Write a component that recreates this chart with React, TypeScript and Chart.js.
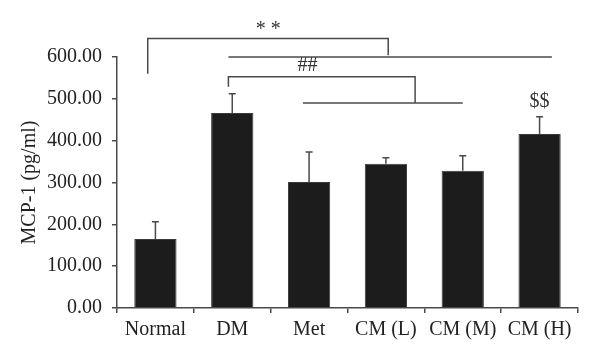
import React, { useEffect, useRef } from "react";
import { Chart, registerables } from "chart.js";

Chart.register(...registerables);

const categories = ["Normal", "DM", "Met", "CM (L)", "CM (M)", "CM (H)"];
const means = [165, 466, 301, 345, 328, 416];
const errors = [41, 46, 72, 14, 36, 41];
const yTicks = [0, 100, 200, 300, 400, 500, 600];

// significance brackets: [xIndex, yValue] polylines
const bracketLines: number[][][] = [
  [[-0.1, 560], [-0.1, 644], [3.03, 644], [3.03, 604]],
  [[0.95, 600], [5.16, 600]],
  [[0.95, 529], [0.95, 553], [3.38, 553], [3.38, 490]],
  [[1.92, 490], [4.0, 490]],
];
const markTexts = ["* *", "##", "$$"];
const markPos: number[][] = [[1.47, 664], [1.98, 578], [5.0, 494]];

const FONT = "'Liberation Serif', 'Times New Roman', serif";
const LINE = "#4a4a4a";

const overlay = {
  id: "overlay",
  afterDatasetsDraw(chart: any) {
    const ctx = chart.ctx;
    const xs = chart.scales.x;
    const ys = chart.scales.y;
    const catW = xs.getPixelForValue(1) - xs.getPixelForValue(0);
    const px = (v: number) => xs.getPixelForValue(0) + v * catW;
    ctx.save();
    ctx.strokeStyle = LINE;
    ctx.lineWidth = 1.5;
    // error bars
    const meta = chart.getDatasetMeta(0);
    meta.data.forEach((bar: any, i: number) => {
      const x = bar.x;
      const yTop = ys.getPixelForValue(means[i]);
      const yErr = ys.getPixelForValue(means[i] + errors[i]);
      ctx.beginPath();
      ctx.moveTo(x, yTop);
      ctx.lineTo(x, yErr);
      ctx.moveTo(x - 3.5, yErr);
      ctx.lineTo(x + 3.5, yErr);
      ctx.stroke();
    });
    // brackets
    bracketLines.forEach((pts) => {
      ctx.beginPath();
      pts.forEach((p, j) => {
        const X = px(p[0]);
        const Y = ys.getPixelForValue(p[1]);
        if (j === 0) ctx.moveTo(X, Y);
        else ctx.lineTo(X, Y);
      });
      ctx.stroke();
    });
    ctx.fillStyle = "#333";
    ctx.font = `20px ${FONT}`;
    ctx.textAlign = "center";
    ctx.textBaseline = "middle";
    markTexts.forEach((t, i) => {
      ctx.fillText(t, px(markPos[i][0]), ys.getPixelForValue(markPos[i][1]));
    });
    ctx.restore();
  },
};

export default function App() {
  const ref = useRef<HTMLCanvasElement>(null);
  useEffect(() => {
    if (!ref.current) return;
    const chart = new Chart(ref.current, {
      type: "bar",
      data: {
        labels: categories,
        datasets: [
          {
            data: means,
            backgroundColor: "#1c1c1c",
            borderColor: "#3a3a3a",
            borderWidth: 1,
            categoryPercentage: 1,
            barPercentage: 0.55,
          },
        ],
      },
      options: {
        animation: false,
        responsive: false,
        devicePixelRatio: 1,
        layout: { padding: { top: 57, right: 22, left: 0, bottom: 0 } },
        plugins: { legend: { display: false }, tooltip: { enabled: false } },
        scales: {
          x: {
            offset: true,
            grid: {
              offset: true,
              drawOnChartArea: false,
              drawTicks: true,
              tickLength: 5,
              color: LINE,
              lineWidth: 1.5,
            },
            border: { color: LINE, width: 1.5 },
            ticks: {
              color: "#222",
              font: { family: FONT, size: 20 },
              padding: 5,
              maxRotation: 0,
            },
            afterFit: (s: any) => {
              s.height = 52;
            },
          },
          y: {
            min: 0,
            max: 600,
            afterBuildTicks: (s: any) => {
              s.ticks = yTicks.map((v) => ({ value: v }));
            },
            grid: {
              drawOnChartArea: false,
              drawTicks: true,
              tickLength: 5,
              color: LINE,
              lineWidth: 1.5,
            },
            border: { color: LINE, width: 1.5 },
            ticks: {
              color: "#222",
              font: { family: FONT, size: 20 },
              padding: 10,
              callback: (v: any) => Number(v).toFixed(2),
            },
            title: {
              display: true,
              text: "MCP-1 (pg/ml)",
              color: "#222",
              font: { family: FONT, size: 20 },
              padding: { top: 18, bottom: 0 },
            },
            afterFit: (s: any) => {
              s.width = 117;
            },
          },
        },
      },
      plugins: [overlay],
    });
    return () => chart.destroy();
  }, []);
  return (
    <div style={{ position: "fixed", left: 0, top: 0, width: 600, height: 360, background: "#fff" }}>
      <canvas ref={ref} width={600} height={360} style={{ width: 600, height: 360 }} />
    </div>
  );
}
